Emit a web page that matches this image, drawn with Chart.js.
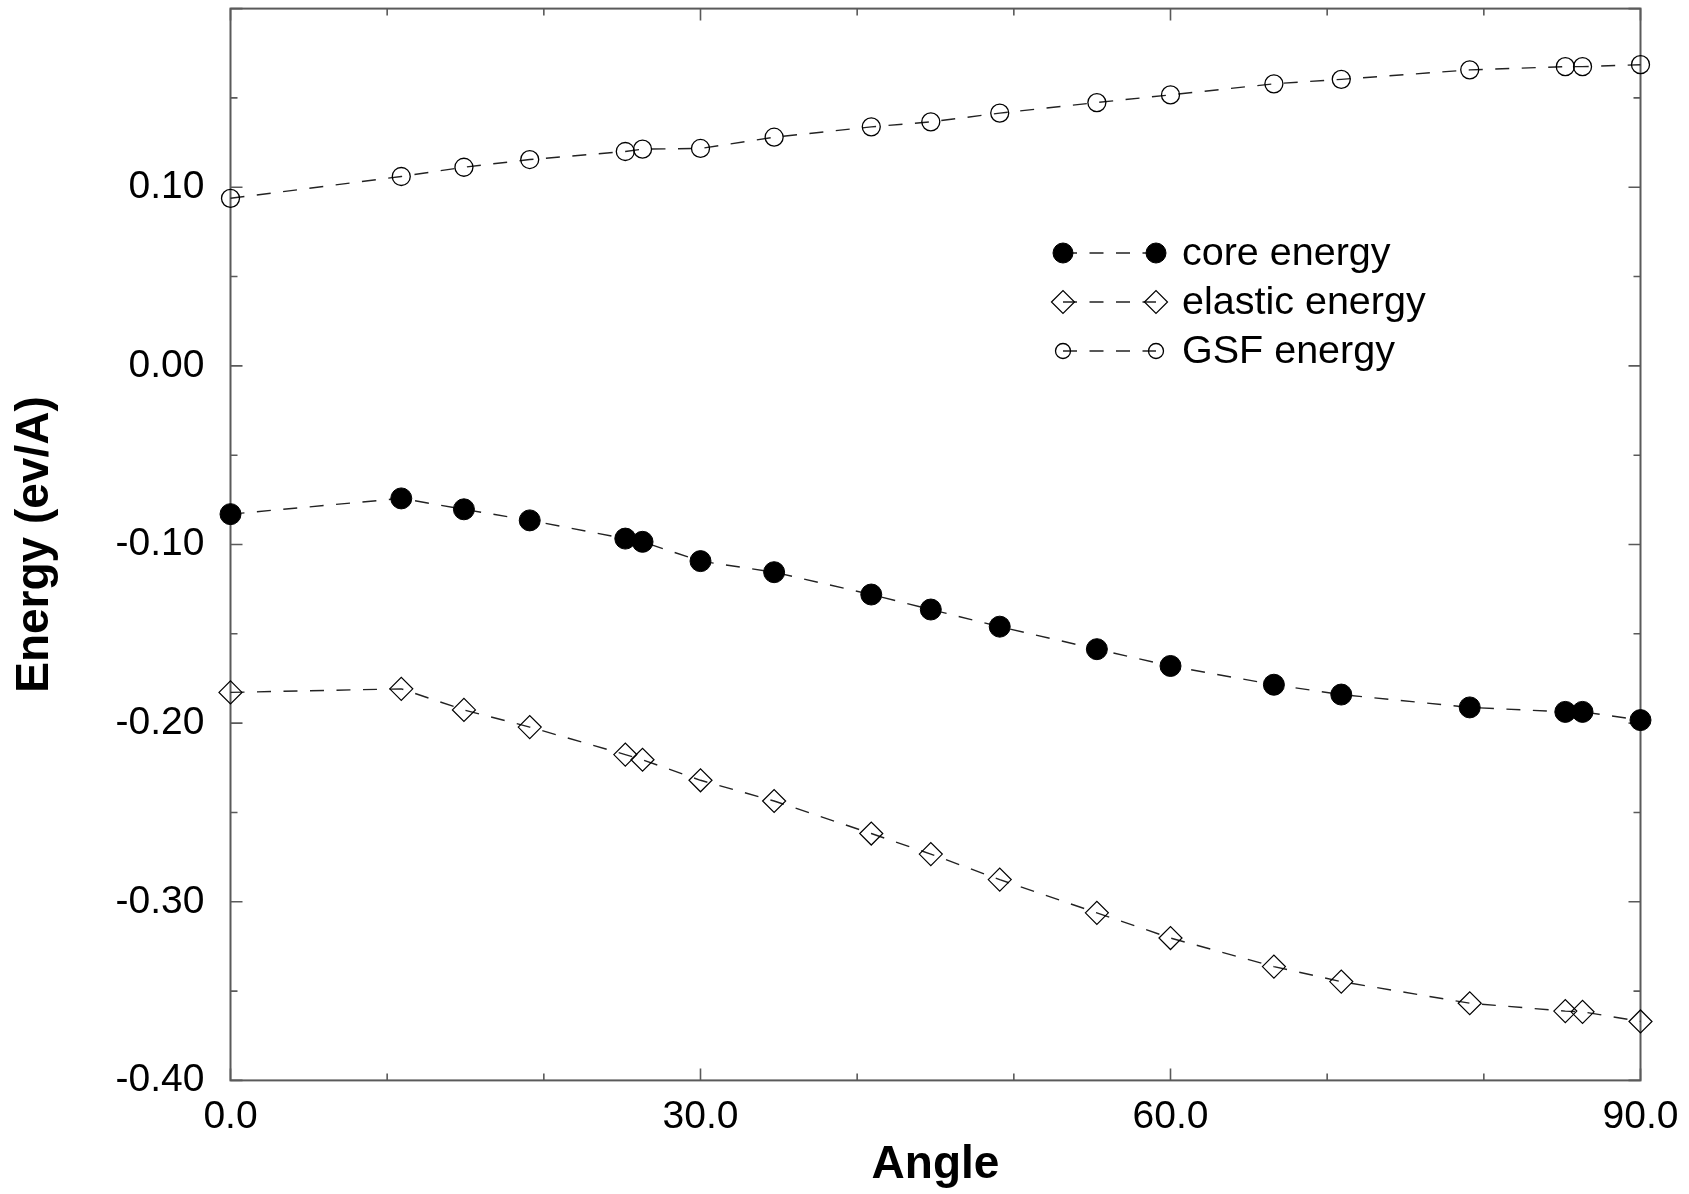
<!DOCTYPE html>
<html>
<head>
<meta charset="utf-8">
<script src="https://cdn.jsdelivr.net/npm/chart.js@4/dist/chart.umd.min.js"></script>
<style>
  body { margin: 0; background: #fff; }
  #wrap { width: 1689px; height: 1194px; position: relative; }
</style>
</head>
<body>
<div id="wrap"><canvas id="energyChart"></canvas></div>
<script>
// angle of the dislocation line (degrees)
const angles = [0, 10.9, 14.9, 19.1, 25.2, 26.3, 30, 34.7, 40.9, 44.7, 49.1, 55.3, 60, 66.6, 70.9, 79.1, 85.2, 86.3, 90];
const coreEnergy = [-0.0830, -0.0742, -0.0803, -0.0865, -0.0967, -0.0985, -0.1093, -0.1155, -0.1280, -0.1364, -0.1460, -0.1586, -0.1680, -0.1785, -0.1840, -0.1912, -0.1937, -0.1937, -0.1983];
const elasticEnergy = [-0.1828, -0.1808, -0.1926, -0.2022, -0.2176, -0.2205, -0.2320, -0.2436, -0.2618, -0.2733, -0.2876, -0.3062, -0.3203, -0.3363, -0.3447, -0.3568, -0.3612, -0.3616, -0.3670];
const gsfEnergy = [0.0938, 0.1060, 0.1112, 0.1155, 0.1200, 0.1213, 0.1217, 0.1280, 0.1338, 0.1366, 0.1415, 0.1474, 0.1517, 0.1579, 0.1604, 0.1657, 0.1675, 0.1675, 0.1686];
const seriesNames = ["core energy", "elastic energy", "GSF energy"];

const FONT = "'Liberation Sans', Arial, Helvetica, sans-serif";
const AXIS_COLOR = "#5a5a5a";

function toPoints(ys) {
  return angles.map((a, i) => ({ x: a, y: ys[i] }));
}

function zeroPadding(s) {
  s.paddingTop = 0;
  s.paddingBottom = 0;
  s.paddingLeft = 0;
  s.paddingRight = 0;
}

const lineStyle = {
  borderColor: "#222",
  borderWidth: 1.4,
  borderDash: [14, 12.5],
  tension: 0,
  fill: false,
  clip: false,
};

const data_energy = {
  datasets: [
    Object.assign({}, lineStyle, {
      label: seriesNames[0],
      data: toPoints(coreEnergy),
      pointStyle: "circle",
      pointRadius: 10.5,
      pointBackgroundColor: "#000",
      pointBorderColor: "#000",
      pointBorderWidth: 1,
      legendRadius: 10,
    }),
    Object.assign({}, lineStyle, {
      label: seriesNames[1],
      data: toPoints(elasticEnergy),
      pointStyle: "rectRot",
      pointRadius: 11.5,
      pointBackgroundColor: "rgba(0,0,0,0)",
      pointBorderColor: "#000",
      pointBorderWidth: 1.2,
      legendRadius: 11.5,
    }),
    Object.assign({}, lineStyle, {
      label: seriesNames[2],
      data: toPoints(gsfEnergy),
      pointStyle: "circle",
      pointRadius: 9,
      pointBackgroundColor: "rgba(0,0,0,0)",
      pointBorderColor: "#000",
      pointBorderWidth: 1.3,
      legendRadius: 7.5,
    }),
  ],
};

// frame + inward major/minor ticks on all four sides
const frameTicks = {
  id: "frameTicks",
  beforeDatasetsDraw(chart) {
    const { ctx, chartArea: a, scales } = chart;
    const xs = scales.x, ys = scales.y;
    ctx.save();
    ctx.strokeStyle = AXIS_COLOR;
    ctx.lineWidth = 1.6;
    for (let v = 0; v <= 90; v += 10) {
      const px = xs.getPixelForValue(v);
      const len = v % 30 === 0 ? 12 : 7;
      ctx.beginPath();
      ctx.moveTo(px, a.bottom); ctx.lineTo(px, a.bottom - len);
      ctx.moveTo(px, a.top); ctx.lineTo(px, a.top + len);
      ctx.stroke();
    }
    for (let k = -8; k <= 4; k++) {
      const v = k * 0.05;
      const py = ys.getPixelForValue(v);
      const len = k % 2 === 0 ? 12 : 7;
      ctx.beginPath();
      ctx.moveTo(a.left, py); ctx.lineTo(a.left + len, py);
      ctx.moveTo(a.right, py); ctx.lineTo(a.right - len, py);
      ctx.stroke();
    }
    ctx.lineWidth = 2;
    ctx.strokeRect(a.left, a.top, a.right - a.left, a.bottom - a.top);
    ctx.restore();
  },
};

// legend: marker - - marker  label
const dashLegend = {
  id: "dashLegend",
  afterDraw(chart) {
    const ctx = chart.ctx;
    const x1 = 1063, x2 = 1156, tx = 1182, y0 = 253, dy = 49;
    chart.data.datasets.forEach((ds, i) => {
      const y = y0 + i * dy;
      const r = ds.legendRadius;
      ctx.save();
      ctx.strokeStyle = ds.borderColor;
      ctx.lineWidth = ds.borderWidth;
      ctx.setLineDash([14, 12.5]);
      ctx.beginPath();
      ctx.moveTo(x1, y); ctx.lineTo(x2, y);
      ctx.stroke();
      ctx.setLineDash([]);
      [x1, x2].forEach((cx) => {
        ctx.beginPath();
        if (ds.pointStyle === "rectRot") {
          ctx.moveTo(cx - r, y); ctx.lineTo(cx, y - r);
          ctx.lineTo(cx + r, y); ctx.lineTo(cx, y + r);
          ctx.closePath();
        } else {
          ctx.arc(cx, y, r, 0, Math.PI * 2);
        }
        ctx.fillStyle = ds.pointBackgroundColor;
        ctx.fill();
        ctx.lineWidth = ds.pointBorderWidth;
        ctx.strokeStyle = ds.pointBorderColor;
        ctx.stroke();
      });
      ctx.fillStyle = "#000";
      ctx.font = "39.5px " + FONT;
      ctx.textAlign = "left";
      ctx.textBaseline = "middle";
      ctx.fillText(ds.label, tx, y + 1);
      ctx.restore();
    });
  },
};

const config_energy = {
  type: "line",
  data: data_energy,
  options: {
    responsive: true,
    maintainAspectRatio: false,
    animation: false,
    layout: {
      autoPadding: false,
      padding: { top: 8.6, right: 48.5, left: 0, bottom: 0 },
    },
    scales: {
      x: {
        type: "linear",
        min: 0,
        max: 90,
        grid: { display: false, drawTicks: false },
        border: { display: false },
        ticks: {
          stepSize: 30,
          padding: 13,
          color: "#000",
          font: { family: FONT, size: 39 },
          maxRotation: 0,
          callback: (v) => Number(v).toFixed(1),
        },
        title: {
          display: true,
          text: "Angle",
          color: "#000",
          font: { family: FONT, size: 46, weight: "bold" },
          padding: { top: 0, bottom: 1 },
        },
        afterFit: (s) => {
          s.height = 113.6;
          zeroPadding(s);
        },
      },
      y: {
        type: "linear",
        min: -0.4,
        max: 0.2,
        grid: { display: false, drawTicks: false },
        border: { display: false },
        ticks: {
          stepSize: 0.1,
          padding: 26,
          color: "#000",
          font: { family: FONT, size: 39 },
          callback: (v) => {
            if (v > 0.15) return "";
            if (Math.abs(v) < 1e-9) return "0.00";
            return Number(v).toFixed(2);
          },
        },
        title: {
          display: true,
          text: "Energy (ev/A)",
          color: "#000",
          font: { family: FONT, size: 46, weight: "bold" },
          padding: { top: 8, bottom: 0 },
        },
        afterFit: (s) => {
          s.width = 230.5;
          zeroPadding(s);
        },
      },
    },
    plugins: {
      legend: { display: false },
      tooltip: { enabled: false },
    },
  },
  plugins: [frameTicks, dashLegend],
};

const energyChart = new Chart(document.getElementById("energyChart"), config_energy);
</script>
</body>
</html>
